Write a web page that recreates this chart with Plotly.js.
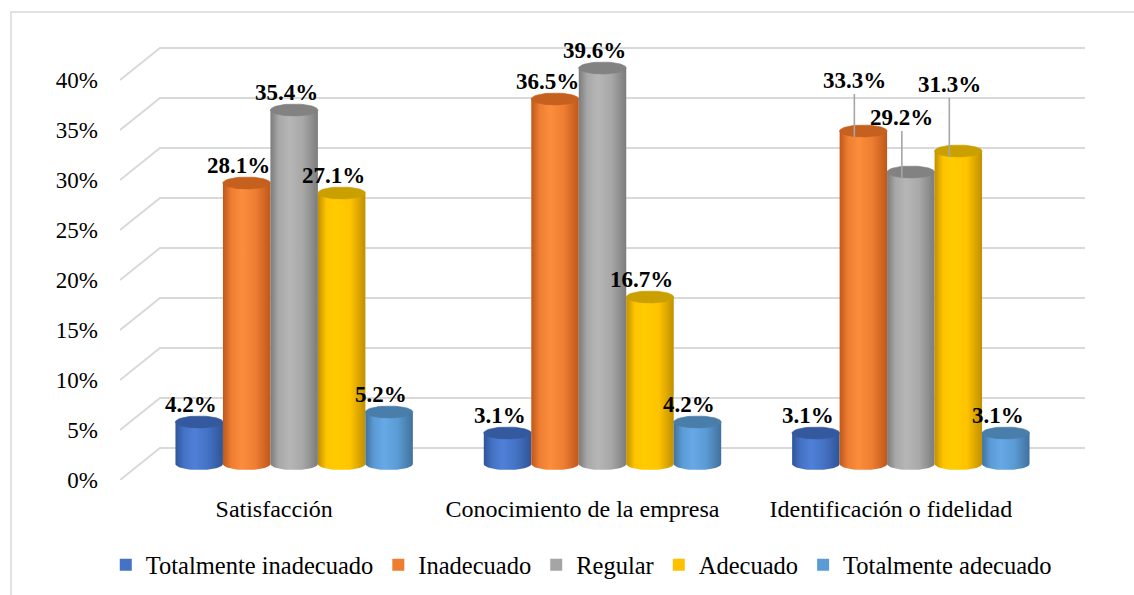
<!DOCTYPE html>
<html>
<head>
<meta charset="utf-8">
<script src="https://cdn.plot.ly/plotly-3.0.1.min.js"></script>
<style>
  html, body { margin: 0; padding: 0; background: #ffffff; }
  #chart { width: 1134px; height: 595px; }
</style>
</head>
<body>
<div id="chart"></div>
<script>
// Categories and series (percent values)
const categories = ['Satisfacción', 'Conocimiento de la empresa', 'Identificación o fidelidad'];
const seriesNames = ['Totalmente inadecuado', 'Inadecuado', 'Regular', 'Adecuado', 'Totalmente adecuado'];
const totalmenteInadecuado = [4.2, 3.1, 3.1];
const inadecuado = [28.1, 36.5, 33.3];
const regular = [35.4, 39.6, 29.2];
const adecuado = [27.1, 16.7, 31.3];
const totalmenteAdecuado = [5.2, 4.2, 3.1];
const yTickValues = [0, 5, 10, 15, 20, 25, 30, 35, 40];

const seriesValues = [totalmenteInadecuado, inadecuado, regular, adecuado, totalmenteAdecuado];

// Cylinder shading per series
const seriesStyle = [
  { base: '#4472c4', dark: '#2f5597', light: '#4f80d8', mid: '#4472c4', cap: '#34599f' },
  { base: '#ed7d31', dark: '#c0581a', light: '#fb8d3c', mid: '#ee7e32', cap: '#c6601e' },
  { base: '#a5a5a5', dark: '#7c7c7c', light: '#b6b6b6', mid: '#a8a8a8', cap: '#828282' },
  { base: '#ffc000', dark: '#c09000', light: '#ffcc00', mid: '#ffc400', cap: '#c9a000' },
  { base: '#5b9bd5', dark: '#41719c', light: '#66a9e6', mid: '#5b9bd5', cap: '#4a7eaa' }
];

// 3-D depth of the chart box (x in category units, y in percent units)
const DEPTH_X = 0.1297;
const DEPTH_Y = 3.2;
const BAR_W = 0.154;
const CAP_RY = 0.6;
const ARC_STEPS = 28;
const X_MAX = categories.length + DEPTH_X;

// Label lifts (pixels) for labels pulled up with leader lines
const leaderLift = { '2-1': 57, '2-2': 61, '2-3': 73 };

function barCenter(g, s) {
  return g + 0.5 + DEPTH_X / 2 + (s - 2) * BAR_W;
}

function cylinderPaths(xc, v) {
  const hw = BAR_W / 2;
  const yb = DEPTH_Y / 2;
  const yt = v + DEPTH_Y / 2;
  const bx = [xc - hw, xc + hw];
  const by = [yt, yt];
  for (let i = 0; i <= ARC_STEPS; i++) {
    const t = -Math.PI * i / ARC_STEPS;
    bx.push(xc + hw * Math.cos(t));
    by.push(yb + CAP_RY * Math.sin(t));
  }
  bx.push(xc - hw); by.push(yt);
  const cx = [], cy = [];
  for (let i = 0; i <= ARC_STEPS * 2; i++) {
    const t = 2 * Math.PI * i / (ARC_STEPS * 2);
    cx.push(xc + hw * Math.cos(t));
    cy.push(yt + CAP_RY * Math.sin(t));
  }
  return { bx, by, cx, cy, yt };
}

const traces = [];
const annotations = [];
const serif = 'Liberation Serif';

seriesValues.forEach((vals, s) => {
  const st = seriesStyle[s];
  vals.forEach((v, g) => {
    const xc = barCenter(g, s);
    const p = cylinderPaths(xc, v);
    traces.push({
      type: 'scatter', mode: 'lines', x: p.bx, y: p.by,
      fill: 'toself', fillcolor: st.base,
      fillgradient: {
        type: 'horizontal',
        start: xc - BAR_W / 2, stop: xc + BAR_W / 2,
        colorscale: [[0, st.dark], [0.18, st.mid], [0.4, st.light], [0.68, st.mid], [1, st.dark]]
      },
      line: { width: 0, color: st.dark },
      hoverinfo: 'skip', showlegend: false
    });
    traces.push({
      type: 'scatter', mode: 'lines', x: p.cx, y: p.cy,
      fill: 'toself', fillcolor: st.cap,
      line: { width: 0.6, color: st.cap },
      hoverinfo: 'skip', showlegend: false
    });

    const key = g + '-' + s;
    const label = v.toFixed(1) + '%';
    if (leaderLift[key]) {
      annotations.push({
        x: xc, y: p.yt - CAP_RY, xref: 'x', yref: 'y',
        text: '<b>' + label + '</b>',
        showarrow: true, arrowhead: 0, arrowwidth: 1.6, arrowcolor: '#a6a6a6',
        ax: 0, ay: -leaderLift[key], xshift: -9,
        font: { family: serif, size: 23, color: '#000000' }
      });
    } else {
      annotations.push({
        x: xc, y: p.yt, xref: 'x', yref: 'y',
        text: '<b>' + label + '</b>',
        showarrow: false, xanchor: 'center', yanchor: 'bottom',
        xshift: -8, yshift: 3,
        font: { family: serif, size: 23, color: '#000000' }
      });
    }
  });
});

// Legend entries
seriesNames.forEach((name, s) => {
  traces.push({
    type: 'scatter', mode: 'markers', x: [null], y: [null], name: name,
    marker: { symbol: 'square', size: 12, color: seriesStyle[s].base, line: { width: 0 } },
    hoverinfo: 'skip', showlegend: true
  });
});

// Back-wall gridlines with their oblique floor segment
const shapes = yTickValues.map(t => ({
  type: 'path', xref: 'x', yref: 'y', layer: 'below',
  path: 'M 0,' + t + ' L ' + DEPTH_X + ',' + (t + DEPTH_Y) + ' L ' + X_MAX + ',' + (t + DEPTH_Y),
  line: { color: '#d9d9d9', width: 2 }
}));
// Chart frame
shapes.push({
  type: 'rect', xref: 'paper', yref: 'paper', layer: 'below',
  x0: -0.113, x1: 1.06, y0: -0.28, y1: 1.0636,
  line: { color: '#d9d9d9', width: 1.5 }, fillcolor: 'rgba(0,0,0,0)'
});

const layout = {
  width: 1134, height: 595,
  margin: { l: 120, r: 49, t: 40, b: 115, autoexpand: false },
  paper_bgcolor: '#ffffff', plot_bgcolor: '#ffffff',
  showlegend: true,
  xaxis: {
    range: [0, X_MAX], fixedrange: true,
    tickvals: categories.map((c, i) => i + 0.5), ticktext: categories,
    showgrid: false, zeroline: false, showline: false, ticks: '',
    ticklabelstandoff: 12,
    tickfont: { family: serif, size: 24, color: '#000000' }
  },
  yaxis: {
    range: [0, 44], fixedrange: true,
    tickvals: yTickValues, ticktext: yTickValues.map(t => t + '%'),
    showgrid: false, zeroline: false, showline: false, ticks: '',
    ticklabelstandoff: 21,
    tickfont: { family: serif, size: 23, color: '#000000' }
  },
  legend: {
    orientation: 'h', x: 0.478, xanchor: 'center', y: -0.193, yanchor: 'middle',
    font: { family: serif, size: 24.5, color: '#000000' },
    bgcolor: 'rgba(0,0,0,0)'
  },
  shapes: shapes,
  annotations: annotations
};

Plotly.newPlot('chart', traces, layout, { displayModeBar: false, staticPlot: true });
</script>
</body>
</html>
